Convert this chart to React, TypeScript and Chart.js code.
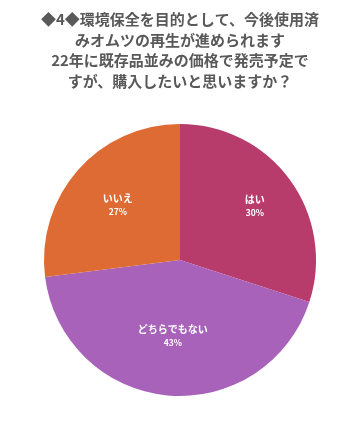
import React, { useEffect, useRef } from "react";
import { Chart, registerables } from "chart.js";

Chart.register(...registerables);

const titleLines = [
  "◆4◆環境保全を目的として、今後使用済",
  "みオムツの再生が進められます",
  "22年に既存品並みの価格で発売予定で",
  "すが、購入したいと思いますか？",
];
const categories = ["はい", "どちらでもない", "いいえ"];
const values = [30, 43, 27];
const colors = ["#B73C6B", "#A862BA", "#DE6B34"];
const labelRadius = [0.68, 0.56, 0.61];

const FONT = "'Noto Sans CJK JP', 'Noto Sans', sans-serif";

const drawPlugin = {
  id: "customText",
  afterDraw(chart: any) {
    const ctx = chart.ctx;
    ctx.save();
    ctx.textAlign = "center";
    ctx.textBaseline = "middle";
    ctx.fillStyle = "#595959";
    ctx.font = `bold 15px ${FONT}`;
    titleLines.forEach((t, i) => {
      ctx.fillText(t, 180, 19.5 + i * 20.6);
    });
    const meta = chart.getDatasetMeta(0);
    const total = values.reduce((a, b) => a + b, 0);
    meta.data.forEach((arc: any, i: number) => {
      const p = arc.getProps(["x", "y", "startAngle", "endAngle", "outerRadius"], true);
      const mid = (p.startAngle + p.endAngle) / 2;
      const r = p.outerRadius * labelRadius[i];
      const x = p.x + Math.cos(mid) * r;
      const y = p.y + Math.sin(mid) * r;
      ctx.fillStyle = "#ffffff";
      ctx.font = `bold 10px ${FONT}`;
      ctx.fillText(categories[i], x, y - 6.5);
      ctx.font = `bold 8.5px ${FONT}`;
      ctx.fillText(Math.round((values[i] / total) * 100) + "%", x, y + 7);
    });
    ctx.restore();
  },
};

export default function App() {
  const ref = useRef<HTMLCanvasElement | null>(null);
  useEffect(() => {
    if (!ref.current) return;
    const chart = new Chart(ref.current, {
      type: "pie",
      data: {
        labels: categories,
        datasets: [
          {
            data: values,
            backgroundColor: colors,
            borderWidth: 0,
          },
        ],
      },
      options: {
        animation: false,
        responsive: false,
        maintainAspectRatio: false,
        layout: { padding: { top: 124, bottom: 32, left: 0, right: 0 } },
        plugins: {
          legend: { display: false },
          title: { display: false },
          tooltip: { enabled: false },
        },
      },
      plugins: [drawPlugin],
    });
    return () => chart.destroy();
  }, []);
  return (
    <div style={{ position: "fixed", left: 0, top: 0, width: 360, height: 428, background: "#ffffff" }}>
      <canvas ref={ref} width={360} height={428} style={{ width: 360, height: 428 }} />
    </div>
  );
}
